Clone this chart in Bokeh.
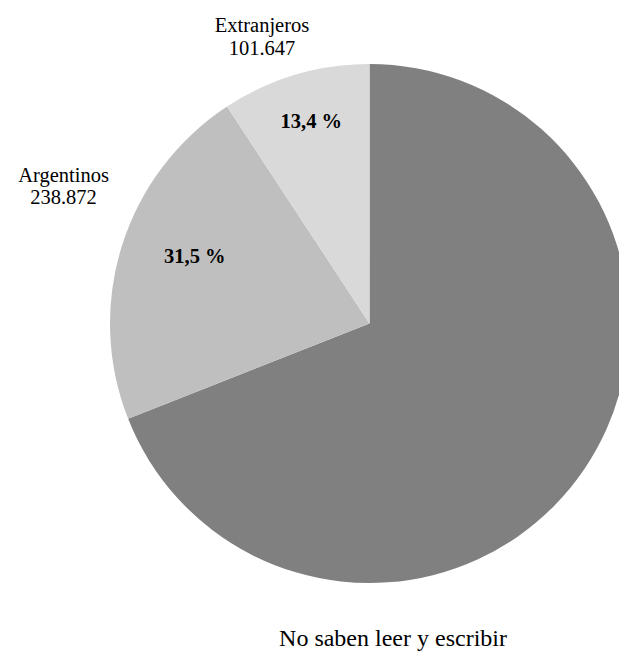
from bokeh.plotting import figure
from bokeh.models import Range1d, Label, ColumnDataSource
from bokeh.embed import file_html
from bokeh.resources import INLINE
import math

# Data (clockwise from 12 o'clock)
categories = ["No saben leer y escribir", "Argentinos", "Extranjeros"]
values = [758400, 238872, 101647]
colors = ["#808080", "#bfbfbf", "#d9d9d9"]

W, H = 619, 653
CX, CY, R = 369, 653 - 323, 259.5

total = sum(values)
starts, ends = [], []
cum = 0.0
for v in values:
    a0 = cum / total * 2 * math.pi
    cum += v
    a1 = cum / total * 2 * math.pi
    starts.append(math.pi / 2 - a1)
    ends.append(math.pi / 2 - a0)

src = ColumnDataSource(dict(x=[CX] * 3, y=[CY] * 3, start=starts, end=ends,
                            color=colors, cat=categories))

p = figure(width=W, height=H, x_range=Range1d(0, W), y_range=Range1d(0, H),
           x_axis_type=None, y_axis_type=None, toolbar_location=None,
           output_backend="svg", min_border=0, outline_line_color=None)
p.grid.visible = False
p.background_fill_color = "white"
p.border_fill_color = "white"

p.wedge(x="x", y="y", radius=R, start_angle="start", end_angle="end",
        fill_color="color", line_color=None, source=src)

font = "'Liberation Serif', 'Times New Roman', serif"

def fmt_int(v):
    return f"{v:,}".replace(",", ".")

def fmt_pct(v):
    return f"{v:.1f}".replace(".", ",") + " %"

outer = {
    "Argentinos": (63, 174, 196),
    "Extranjeros": (261.5, 24, 47),
}
for cat, (x, y1, y2) in outer.items():
    v = values[categories.index(cat)]
    for txt, yy in ((cat, y1), (fmt_int(v), y2)):
        p.add_layout(Label(x=x, y=H - yy, text=txt, text_align="center",
                           text_baseline="middle", text_font=font,
                           text_font_size="20.5px", text_color="black"))

base = values[0]
inner = {"Argentinos": (194.3, 255.5), "Extranjeros": (310.8, 120.5)}
for cat, (x, yy) in inner.items():
    v = values[categories.index(cat)]
    p.add_layout(Label(x=x, y=H - yy, text=fmt_pct(v / base * 100),
                       text_align="center", text_baseline="middle",
                       text_font=font, text_font_size="20.5px",
                       text_font_style="bold", text_color="black"))

p.add_layout(Label(x=392.5, y=H - 637, text=categories[0], text_align="center",
                   text_baseline="middle", text_font=font,
                   text_font_size="24px", text_color="black"))

open("out.html", "w").write(file_html(p, INLINE))
